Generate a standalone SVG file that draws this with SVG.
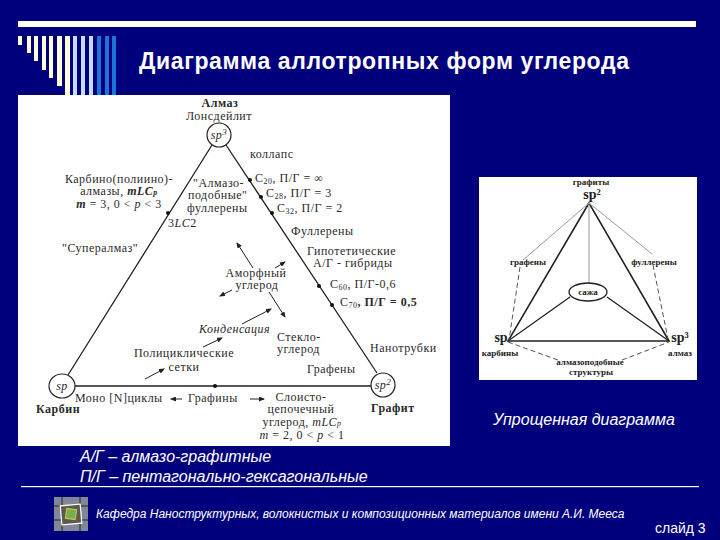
<svg xmlns="http://www.w3.org/2000/svg" width="720" height="540" viewBox="0 0 720 540">
<style>
.s{font-family:"Liberation Serif",serif;fill:#2a2a2a;font-size:12px;letter-spacing:.5px}
.m{text-anchor:middle}
.b{font-weight:bold}
.w{font-family:"Liberation Sans",sans-serif;fill:#fff}
.i{font-style:italic}
.l{stroke:#222;stroke-width:1.3;fill:none}
.a{stroke:#222;stroke-width:1;fill:none;marker-end:url(#ah)}
.k{stroke:#222;stroke-width:1.6;fill:none}
.g{stroke:#999;stroke-width:1;fill:none}
.d{stroke:#555;stroke-width:1;fill:none;stroke-dasharray:5 3}
.q{font-family:"Liberation Serif",serif;font-weight:bold;fill:#222;font-size:9px;text-anchor:middle}
.p{font-size:14px}
</style>
<defs><marker id="ah" markerWidth="6" markerHeight="5" refX="5" refY="2.5" orient="auto"><path d="M0 0L6 2.5L0 5z" fill="#222"/></marker></defs>
<rect width="720" height="540" fill="#00007d"/>
<g id="decor">
<rect x="18" y="21" width="678" height="6" fill="#fff"/>
<g fill="#ffffd8"><rect x="18" y="36" width="4" height="9"/><rect x="27" y="36" width="4" height="17"/><rect x="34" y="36" width="4" height="25"/><rect x="42" y="36" width="4" height="34"/><rect x="49" y="36" width="4" height="42"/><rect x="57" y="36" width="5" height="50"/><rect x="65" y="36" width="5" height="59"/></g>
<g fill="#c8dcff"><rect x="73" y="36" width="4" height="59"/><rect x="81" y="36" width="4" height="59"/><rect x="89" y="36" width="4" height="59"/></g>
<g fill="#1c74d8"><rect x="97" y="36" width="4" height="59"/><rect x="105" y="36" width="4" height="59"/><rect x="112" y="36" width="4" height="59"/></g>
</g>
<text class="w" x="139" y="69" font-size="23" font-weight="bold" letter-spacing="0.62">Диаграмма аллотропных форм углерода</text>
<rect id="panel-main" x="18" y="95" width="432" height="351" fill="#fff"/>
<g id="connectors-main">
<path class="l" d="M212 145L68 375M226 145L377 373M74 386L371 386"/>
<path class="a" d="M253 268L237 243"/>
<path class="a" d="M275 268L285 262"/>
<path class="a" d="M232 290L220 296"/>
<path class="a" d="M269 292L285 317"/>
<path class="a" d="M242 324L271 309"/>
<path class="a" d="M203 347L222 338"/>
<path class="a" d="M145 379L164 369"/>
<path class="a" d="M182 399L171 399"/>
<path class="a" d="M250 399L264 399"/>
<g fill="#111"><circle cx="250" cy="180" r="2"/><circle cx="261" cy="197" r="2"/><circle cx="272" cy="213" r="2"/><circle cx="319" cy="286" r="2"/><circle cx="332" cy="305" r="2"/><circle cx="168" cy="213" r="2"/><circle cx="215" cy="386" r="2"/></g>
</g>
<g id="node-sp3"><circle cx="219" cy="135" r="12" fill="#fff" stroke="#222" stroke-width="1.2"/><text class="s i m" x="219" y="139">sp<tspan font-size="9" dy="-4">3</tspan></text></g>
<g id="node-sp"><ellipse cx="62" cy="386" rx="13" ry="12" fill="#fff" stroke="#222" stroke-width="1.2"/><text class="s i m" x="62" y="390">sp</text></g>
<g id="node-sp2"><circle cx="383" cy="385" r="12" fill="#fff" stroke="#222" stroke-width="1.2"/><text class="s i m" x="383" y="389">sp<tspan font-size="9" dy="-4">2</tspan></text></g>
<g id="labels-main">
<text class="s m b" x="220" y="107">Алмаз</text>
<text class="s m" x="219" y="120">Лонсдейлит</text>
<text class="s" x="250" y="158">коллапс</text>
<text class="s m" x="119" y="183">Карбино(полиино)-</text>
<text class="s m" x="119" y="195">алмазы, <tspan class="i b">mLC</tspan><tspan class="i b" font-size="8">p</tspan></text>
<text class="s m" x="119" y="208"><tspan class="i b">m</tspan> = 3, 0 &lt; <tspan class="i">p</tspan> &lt; 3</text>
<text class="s" x="193" y="187">"Алмазо-</text>
<text class="s" x="188" y="199">подобные"</text>
<text class="s" x="187" y="212">фуллерены</text>
<text class="s" x="168" y="227">3<tspan class="i">LC</tspan>2</text>
<text class="s" x="62" y="252">"Суперaлмаз"</text>
<text class="s" x="255" y="182">C<tspan font-size="8" dy="2">20</tspan><tspan dy="-2">, П/Г = ∞</tspan></text>
<text class="s" x="266" y="197">C<tspan font-size="8" dy="2">28</tspan><tspan dy="-2">, П/Г = 3</tspan></text>
<text class="s" x="277" y="212">C<tspan font-size="8" dy="2">32</tspan><tspan dy="-2">, П/Г = 2</tspan></text>
<text class="s" x="291" y="235">Фуллерены</text>
<text class="s" x="307" y="255">Гипотетические</text>
<text class="s" x="313" y="267">А/Г - гибриды</text>
<text class="s m" x="256" y="277">Аморфный</text>
<text class="s m" x="257" y="289">углерод</text>
<text class="s" x="330" y="288">C<tspan font-size="8" dy="2">60</tspan><tspan dy="-2">, П/Г-0,6</tspan></text>
<text class="s" x="340" y="306">C<tspan font-size="8" dy="2">70</tspan><tspan dy="-2" class="b">, П/Г = 0,5</tspan></text>
<text class="s i" x="199" y="333">Конденсация</text>
<text class="s" x="277" y="341">Стекло-</text>
<text class="s" x="277" y="353">углерод</text>
<text class="s m" x="184" y="357">Полициклические</text>
<text class="s m" x="184" y="371">сетки</text>
<text class="s" x="307" y="373">Графены</text>
<text class="s" x="370" y="352">Нанотрубки</text>
<text class="s b" x="36" y="413">Карбин</text>
<text class="s" x="75" y="402">Моно [N]циклы</text>
<text class="s" x="188" y="402">Графины</text>
<text class="s m" x="301" y="401">Слоисто-</text>
<text class="s m" x="301" y="413">цепочечный</text>
<text class="s m" x="302" y="426">углерод, <tspan class="i">mLC</tspan><tspan class="i" font-size="8">p</tspan></text>
<text class="s m" x="302" y="439"><tspan class="i">m</tspan> = 2, 0 &lt; <tspan class="i">p</tspan> &lt; 1</text>
<text class="s b" x="371" y="412">Графит</text>
</g>
<rect id="panel-simple" x="479" y="177" width="218" height="203" fill="#fff"/>
<g id="connectors-simple">
<path class="k" d="M589 203L508 341L669 341Z"/>
<path class="g" stroke-width="1.2" d="M589 203L589 283"/>
<path class="l" d="M508 341L570 297M669 341L607 297"/>
<path class="g" d="M589 203L523 260M589 203L652 254"/>
<path class="d" d="M520 267L509 340M653 265L668 339M508 342L558 360M622 360L669 342"/>
</g>
<g id="node-soot"><ellipse cx="588" cy="292" rx="19" ry="9" fill="#fff" stroke="#222" stroke-width="1.3"/><text class="q" x="588" y="295">сажа</text></g>
<g id="labels-simple">
<text class="q" x="591" y="185">графиты</text>
<text class="q p" x="592" y="199">sp²</text>
<text class="q" x="528" y="265">графены</text>
<text class="q" x="654" y="265">фуллерены</text>
<text class="q p" x="501" y="342">sp</text>
<text class="q p" x="680" y="342">sp³</text>
<text class="q" x="500" y="356">карбины</text>
<text class="q" x="680" y="356">алмаз</text>
<text class="q" x="590" y="365">алмазоподобные</text>
<text class="q" x="591" y="375">структуры</text>
</g>
<g id="captions">
<text class="w i" x="493" y="425" font-size="16">Упрощенная диаграмма</text>
<text class="w i" x="80" y="462" font-size="16">А/Г – алмазо-графитные</text>
<text class="w i" x="80" y="482" font-size="16">П/Г – пентагонально-гексагональные</text>
<rect x="21" y="486" width="678" height="1.2" fill="#fff"/>
<text class="w i" x="96" y="518" font-size="12">Кафедра Наноструктурных, волокнистых и композиционных материалов имени А.И. Мееса</text>
<text class="w" x="655" y="533" font-size="14">слайд 3</text>
</g>
<g id="logo">
<rect x="54" y="497" width="34" height="34" fill="#808898"/>
<path d="M54 506H88M54 520H88M62 497V531M80 497V531" stroke="#222" stroke-width="1"/>
<rect x="61" y="505" width="20" height="19" fill="#5a5a50" stroke="#fff" stroke-width="1.2" transform="rotate(-5 71 514)"/>
<rect x="66" y="509" width="10" height="10" fill="#70b050" stroke="#e0c040" transform="rotate(8 71 514)"/>
</g>
</svg>
